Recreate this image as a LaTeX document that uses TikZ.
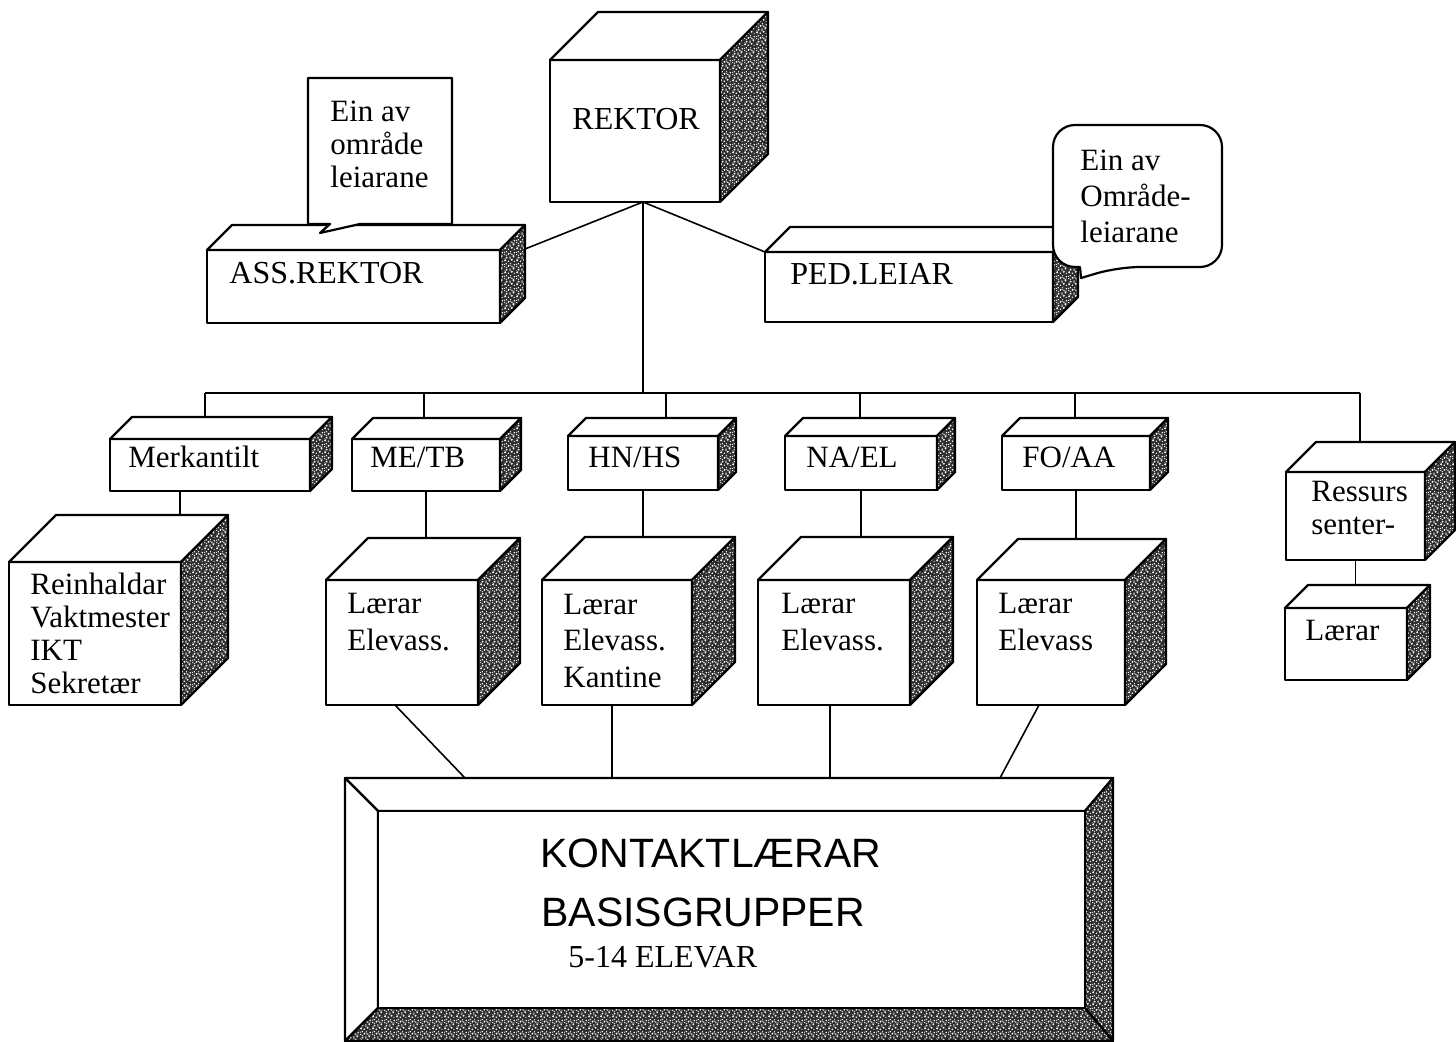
\documentclass[tikz,border=0pt]{standalone}
\usepackage{fontspec}
\setmainfont{Liberation Serif}
\newfontfamily\kfont{Liberation Sans}
\usetikzlibrary{calc,patterns}

\pgfdeclarepatternformonly{speckle}{\pgfpointorigin}{\pgfpoint{6pt}{6pt}}{\pgfpoint{6pt}{6pt}}{%
  \pgfpathcircle{\pgfpoint{0.6pt}{0.8pt}}{0.5pt}
  \pgfpathcircle{\pgfpoint{2.3pt}{0.4pt}}{0.45pt}
  \pgfpathcircle{\pgfpoint{4.1pt}{1.2pt}}{0.55pt}
  \pgfpathcircle{\pgfpoint{5.4pt}{0.3pt}}{0.3pt}
  \pgfpathcircle{\pgfpoint{1.4pt}{2.3pt}}{0.5pt}
  \pgfpathcircle{\pgfpoint{3.2pt}{2.6pt}}{0.4pt}
  \pgfpathcircle{\pgfpoint{5.0pt}{2.9pt}}{0.5pt}
  \pgfpathcircle{\pgfpoint{0.4pt}{4.0pt}}{0.35pt}
  \pgfpathcircle{\pgfpoint{2.4pt}{4.4pt}}{0.55pt}
  \pgfpathcircle{\pgfpoint{4.2pt}{4.1pt}}{0.4pt}
  \pgfpathcircle{\pgfpoint{1.3pt}{5.5pt}}{0.4pt}
  \pgfpathcircle{\pgfpoint{3.5pt}{5.6pt}}{0.3pt}
  \pgfpathcircle{\pgfpoint{5.5pt}{5.0pt}}{0.45pt}
  \pgfusepath{fill}
  \pgfsetlinewidth{0.35pt}
  \pgfpathmoveto{\pgfpoint{0.2pt}{1.7pt}}\pgfpathlineto{\pgfpoint{1.0pt}{1.4pt}}
  \pgfpathmoveto{\pgfpoint{3.0pt}{1.6pt}}\pgfpathlineto{\pgfpoint{3.4pt}{2.0pt}}
  \pgfpathmoveto{\pgfpoint{4.6pt}{3.5pt}}\pgfpathlineto{\pgfpoint{5.6pt}{3.8pt}}
  \pgfpathmoveto{\pgfpoint{1.0pt}{3.2pt}}\pgfpathlineto{\pgfpoint{1.6pt}{3.6pt}}
  \pgfpathmoveto{\pgfpoint{3.1pt}{4.9pt}}\pgfpathlineto{\pgfpoint{3.8pt}{4.6pt}}
  \pgfpathmoveto{\pgfpoint{0.1pt}{5.0pt}}\pgfpathlineto{\pgfpoint{0.6pt}{5.4pt}}
  \pgfusepath{stroke}
}

\tikzset{
  front/.style={draw, fill=white, line width=1.1pt, inner sep=0pt, outer sep=0pt, line join=round},
  topface/.style={draw, fill=white, line width=1.1pt, line join=round},
  darkface/.style={draw, line width=1.1pt, line join=round, preaction={fill=black!82}, pattern=speckle, pattern color=white},
  conn/.style={line width=0.8pt},
  callout/.style={draw, fill=white, line width=1.1pt, line join=round},
  lbl/.style={inner sep=0pt, anchor=base west, align=left, font=\fontsize{15.5}{18}\selectfont},
  lblA/.style={lbl, font=\fontsize{15.5}{16.5}\selectfont},
  lblB/.style={lbl, font=\fontsize{15.5}{18.2}\selectfont},
  big/.style={inner sep=0pt, anchor=base west, font=\kfont\fontsize{20.5}{22}\selectfont},
}

\newcommand\tdbox[6]{%
  \node[front, minimum width={(#4-#2)*0.5pt}, minimum height={(#5-#3)*0.5pt}] (#1) at ({(#2+#4)/2},{(#3+#5)/2}) {};
  \coordinate (#1-b) at ($(#1.north west)+(#6,-#6)$);
  \coordinate (#1-c) at ($(#1.north east)+(#6,-#6)$);
  \coordinate (#1-d) at ($(#1.south east)+(#6,-#6)$);
  \draw[topface] (#1.north west) -- (#1-b) -- (#1-c) -- (#1.north east) -- cycle;
  \draw[darkface] (#1.north east) -- (#1-c) -- (#1-d) -- (#1.south east) -- cycle;
}

\begin{document}
\begin{tikzpicture}[x=0.5pt, y=-0.5pt]
\fill[white] (0,0) rectangle (1456,1042);
\useasboundingbox (0,0) rectangle (1456,1042);

% ---- boxes ----
\tdbox{rek}{550}{60}{720}{202}{48}
\tdbox{ass}{207}{250}{500}{323}{25}
\tdbox{ped}{765}{252}{1053}{322}{25}

\tdbox{mk}{110}{439}{310}{491}{22}
\tdbox{mt}{352}{439}{500}{491}{21}
\tdbox{hn}{568}{436}{718}{490}{18}
\tdbox{na}{785}{436}{937}{490}{18}
\tdbox{fo}{1002}{436}{1150}{490}{18}
\tdbox{rs}{1286}{472}{1425}{560}{30}

\tdbox{rh}{9}{562}{181}{705}{47}
\tdbox{ml}{326}{580}{478}{705}{42}
\tdbox{hl}{542}{580}{692}{705}{43}
\tdbox{nl}{758}{580}{910}{705}{43}
\tdbox{fl}{977}{580}{1125}{705}{41}
\tdbox{sl}{1285}{608}{1407}{680}{23}

% ---- bottom bevelled box ----
\node[front, minimum width=384pt, minimum height=131.5pt] (kb) at (729,909.5) {};
\coordinate (ki1) at ($(kb.north west)+(33,33)$);
\coordinate (ki2) at ($(kb.north east)+(-28,33)$);
\coordinate (ki3) at ($(kb.south east)+(-28,-33)$);
\coordinate (ki4) at ($(kb.south west)+(33,-33)$);
\draw[topface] (kb.north west) -- (kb.north east) -- (ki2) -- (ki1) -- cycle;
\draw[topface] (kb.north west) -- (ki1) -- (ki4) -- (kb.south west) -- cycle;
\draw[darkface] (kb.north east) -- (kb.south east) -- (ki3) -- (ki2) -- cycle;
\draw[darkface] (kb.south west) -- (ki4) -- (ki3) -- (kb.south east) -- cycle;
\draw[topface] (ki1) rectangle (ki3);

% ---- callouts ----
\node[inner sep=0pt, outer sep=0pt, minimum width=72pt, minimum height=73pt] (co1) at (380,151) {};
\draw[callout] (co1.south west) -- (co1.north west) -- (co1.north east) -- (co1.south east)
  -- ($(co1.south west)+(52,0)$) -- ($(co1.south west)+(12,9)$) -- ($(co1.south west)+(22,0)$) -- cycle;

\node[inner sep=0pt, outer sep=0pt, minimum width=84.5pt, minimum height=71pt] (co2) at (1137.5,196) {};
\draw[callout] ($(co2.south west)+(28,11)$) -- ($(co2.south west)+(27,0)$)
  [rounded corners=11pt] -- (co2.south west) -- (co2.north west) -- (co2.north east) -- (co2.south east)
  -- ($(co2.south west)+(65,0)$) [sharp corners] -- cycle;

% ---- connectors ----
\coordinate (rb) at ($(rek.south)+(8,0)$);
\coordinate (busL) at (205,393);
\coordinate (busR) at (1360,393);
\coordinate (j2) at (424,393);
\coordinate (j3) at (666,393);
\coordinate (j4) at (860,393);
\coordinate (j5) at (1075,393);
\draw[conn] (rb) -- ($(ass-c)+(0,24)$);
\draw[conn] (rb) -- (ped.north west);
\draw[conn] (rb) -- (rb |- busL);
\draw[conn] (busL) -- (busR);
\draw[conn] (busL) -- (busL |- mk-b);
\draw[conn] (j2) -- (j2 |- mt-b);
\draw[conn] (j3) -- (j3 |- hn-b);
\draw[conn] (j4) -- (j4 |- na-b);
\draw[conn] (j5) -- (j5 |- fo-b);
\draw[conn] (busR) -- (busR |- rs-b);

\coordinate (mkd) at ($(mk.south)+(-30,0)$);
\draw[conn] (mkd) -- (mkd |- rh-b);
\draw[conn] (mt.south) -- (mt.south |- ml-b);
\draw[conn] (hn.south) -- (hn.south |- hl-b);
\draw[conn] (na.south) -- (na.south |- nl-b);
\draw[conn] (fo.south) -- (fo.south |- fl-b);
\draw[conn] (rs.south) -- (rs.south |- sl-b);

\coordinate (mld) at ($(ml.south)+(-7,0)$);
\draw[conn] (mld) -- ($(kb.north west)+(120,0)$);
\coordinate (hld) at ($(hl.south)+(-5,0)$);
\draw[conn] (hld) -- (hld |- kb.north);
\coordinate (nld) at ($(nl.south)+(-4,0)$);
\draw[conn] (nld) -- (nld |- kb.north);
\coordinate (fld) at ($(fl.south)+(-12,0)$);
\draw[conn] (fld) -- ($(kb.north west)+(655,0)$);

% ---- texts (multi-line nodes are placed by the baseline of their last line) ----
\node[lbl, font=\fontsize{16}{18}\selectfont] (t-rek) at (572,130) {REKTOR};
\node[lbl, font=\fontsize{16}{18}\selectfont] (t-ass) at (229,284) {ASS.REKTOR};
\node[lbl, font=\fontsize{16}{18}\selectfont] (t-ped) at (790,285) {PED.LEIAR};
\node[lblA] (t-co1) at (330,188) {Ein av\\område\\leiarane};
\node[lblB] (t-co2) at (1080,243) {Ein av\\Område-\\leiarane};

\node[lbl] (t-mk) at (128,468) {Merkantilt};
\node[lbl] (t-mt) at (370,468) {ME/TB};
\node[lbl] (t-hn) at (588,468) {HN/HS};
\node[lbl] (t-na) at (806,468) {NA/EL};
\node[lbl] (t-fo) at (1022,468) {FO/AA};
\node[lblA] (t-rs) at (1311,535) {Ressurs\\senter-};
\node[lbl] (t-sl) at (1305,640) {Lærar};

\node[lblA] (t-rh) at (30,693) {Reinhaldar\\Vaktmester\\IKT\\Sekretær};
\node[lblB] (t-ml) at (347,650) {Lærar\\Elevass.};
\node[lblB] (t-hl) at (563,687) {Lærar\\Elevass.\\Kantine};
\node[lblB] (t-nl) at (781,650) {Lærar\\Elevass.};
\node[lblB] (t-fl) at (998,650) {Lærar\\Elevass};

\node[big] (t-k1) at (540,867) {KONTAKTLÆRAR};
\node[big] (t-k2) at (541,926) {BASISGRUPPER};
\node[lbl, font=\fontsize{16}{18}\selectfont] (t-k3) at (568,967) {5-14 ELEVAR};
\end{tikzpicture}
\end{document}
